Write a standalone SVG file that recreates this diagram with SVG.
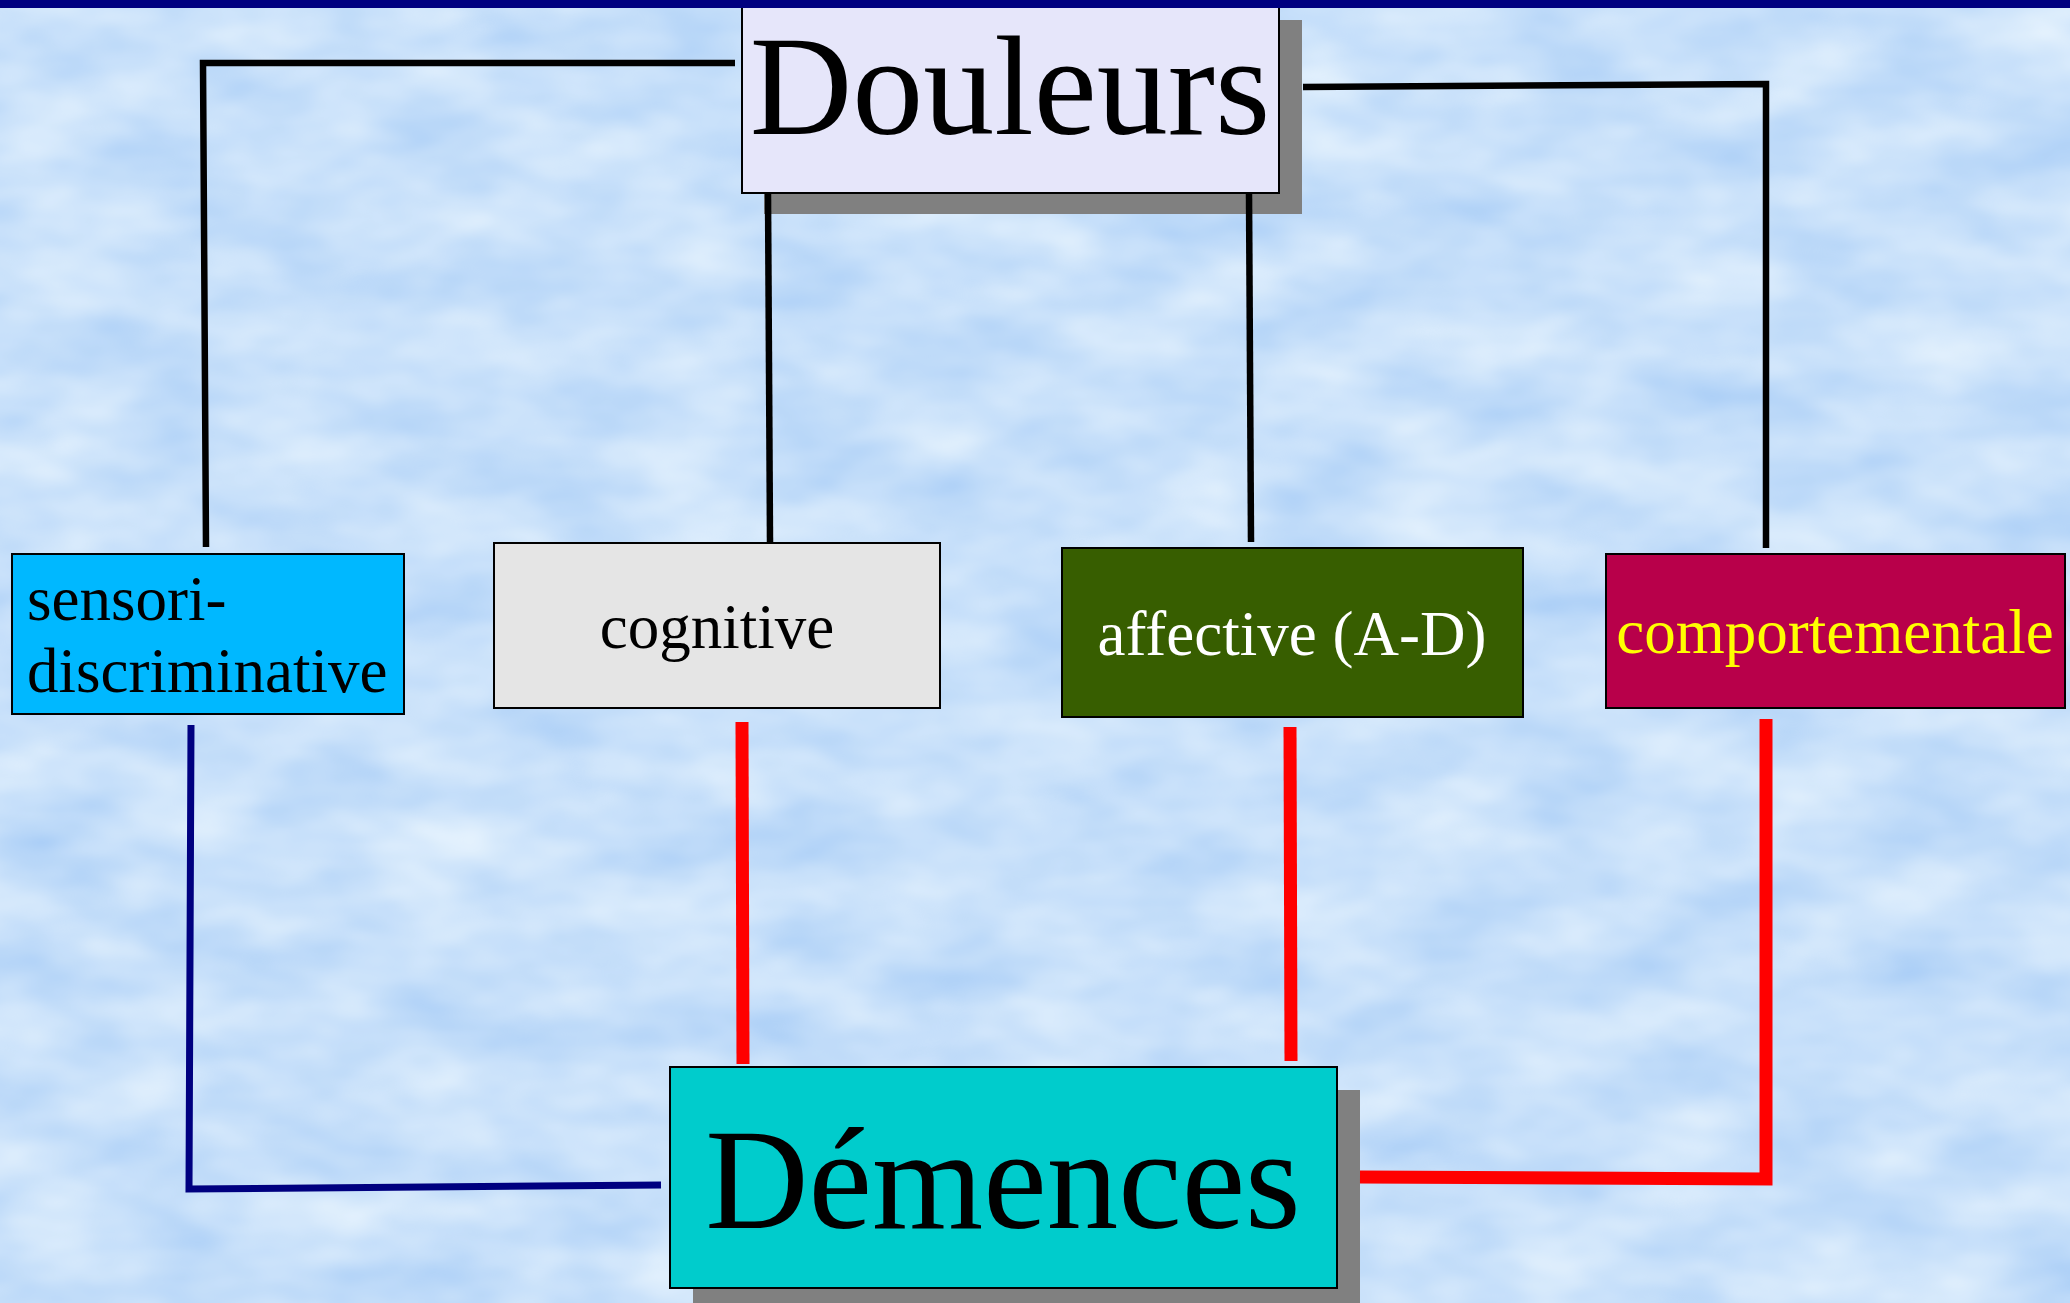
<svg xmlns="http://www.w3.org/2000/svg" width="2070" height="1303" viewBox="0 0 2070 1303">
<defs>
<filter id="clouds" x="0" y="0" width="100%" height="100%" color-interpolation-filters="sRGB">
<feTurbulence type="fractalNoise" baseFrequency="0.008 0.016" numOctaves="3" seed="7" result="n"/>
<feColorMatrix in="n" type="matrix" values="0.26 0 0 0 0.655  0.16 0 0 0 0.80  0.03 0 0 0 0.965  0 0 0 0 1"/>
</filter>
<style>
.bx{stroke:#000;stroke-width:2}
.sh{fill:#808080}
.t{font-family:"Liberation Serif","Times New Roman",serif;text-anchor:middle}
.blk{fill:none;stroke:#000;stroke-width:6.5}
.red{fill:none;stroke:#ff0000;stroke-width:13}
.nav{fill:none;stroke:#000080;stroke-width:7}
</style>
</defs>
<rect x="0" y="0" width="2070" height="1303" fill="#c6defa"/>
<rect x="0" y="0" width="2070" height="1303" filter="url(#clouds)"/>

<g id="douleurs">
<rect class="sh" x="764" y="20" width="538" height="194"/>
<rect class="bx" x="742" y="-4" width="537" height="197" fill="#e6e6fa"/>
<text class="t" x="1010" y="134" font-size="142" fill="#000">Douleurs</text>
</g>

<g id="sensori">
<rect class="bx" x="12" y="554" width="392" height="160" fill="#00b8ff"/>
<text x="27" y="620" font-family="Liberation Serif, Times New Roman, serif" font-size="63" fill="#000">sensori-</text>
<text x="27" y="692" font-family="Liberation Serif, Times New Roman, serif" font-size="63" fill="#000">discriminative</text>
</g>

<g id="cognitive">
<rect class="bx" x="494" y="543" width="446" height="165" fill="#e5e5e5"/>
<text class="t" x="717" y="648" font-size="63" fill="#000">cognitive</text>
</g>

<g id="affective">
<rect class="bx" x="1062" y="548" width="461" height="169" fill="#375e00"/>
<text class="t" x="1292" y="655" font-size="63" fill="#ffffff">affective (A-D)</text>
</g>

<g id="comportementale">
<rect class="bx" x="1606" y="554" width="459" height="154" fill="#b8004a"/>
<text class="t" x="1835" y="653" font-size="63" fill="#ffff00">comportementale</text>
</g>

<g id="demences">
<rect class="sh" x="693" y="1090" width="667" height="220"/>
<rect class="bx" x="670" y="1067" width="667" height="221" fill="#00cccc"/>
<text class="t" x="1003" y="1228" font-size="143" fill="#000">Démences</text>
</g>

<g id="connectors">
<polyline class="blk" points="735,63 203,63 206,547"/>
<line class="blk" x1="768" y1="193" x2="770" y2="542"/>
<line class="blk" x1="1249" y1="193" x2="1251" y2="542"/>
<polyline class="blk" points="1303,87 1766,84 1766,548"/>
<polyline class="nav" points="191,725 189,1189 661,1185"/>
<line class="red" x1="742" y1="722" x2="743" y2="1064"/>
<line class="red" x1="1290" y1="727" x2="1291" y2="1061"/>
<polyline class="red" points="1766,719 1766,1179 1360,1177"/>
</g>

<rect x="0" y="0" width="2070" height="8" fill="#000080"/>
</svg>
